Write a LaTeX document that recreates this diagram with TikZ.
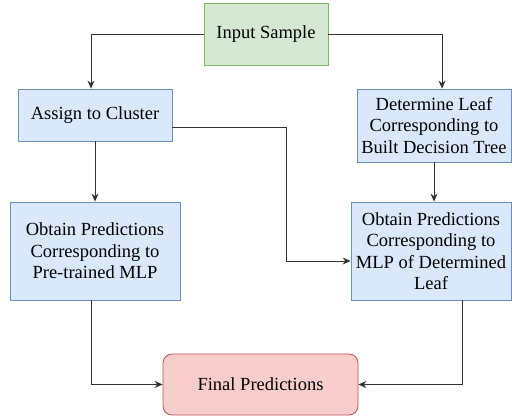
\documentclass[tikz,border=0pt]{standalone}
\usepackage{fontspec}
\setmainfont{Liberation Serif}
\usetikzlibrary{arrows.meta}
\definecolor{gfill}{HTML}{D5E8D4}
\definecolor{gline}{HTML}{82B366}
\definecolor{bfill}{HTML}{DAE8FC}
\definecolor{bline}{HTML}{6C8EBF}
\definecolor{rfill}{HTML}{F8CECC}
\definecolor{rline}{HTML}{B85450}
\tikzset{
  box/.style  = {draw, line width=0.8pt, inner sep=2pt, align=center,
                 font=\fontsize{18.5pt}{21.5pt}\selectfont},
  gbox/.style = {box, draw=gline, fill=gfill},
  bbox/.style = {box, draw=bline, fill=bfill},
  rbox/.style = {box, draw=rline, fill=rfill, rounded corners=9pt},
  arr/.style  = {line width=0.9pt, draw=black!80, -{Stealth[length=8pt,width=7pt]}},
}
\begin{document}
\begin{tikzpicture}[x=1pt,y=-1pt]
  \useasboundingbox (0,0) rectangle (512,420);
  % boxes
  \node[gbox, minimum width=124pt, minimum height=62pt] (in) at (266,34) {Input Sample};
  \node[bbox, minimum width=154pt, minimum height=52pt] (assign) at (95,115) {Assign to Cluster};
  \node[bbox, minimum width=154pt, minimum height=73pt] (leaf) at (434,125.5)
    {Determine Leaf\\Corresponding to\\Built Decision Tree};
  \node[bbox, minimum width=170pt, minimum height=98pt] (obtL) at (95,251)
    {Obtain Predictions\\Corresponding to\\Pre-trained MLP};
  \node[bbox, minimum width=160pt, minimum height=98pt] (obtR) at (431,251)
    {Obtain Predictions\\Corresponding to\\MLP of Determined\\Leaf};
  \node[rbox, minimum width=195pt, minimum height=61pt] (final) at (260.5,384.5) {Final Predictions};
  % connectors
  \draw[arr] (in.west) -| ([xshift=-4pt]assign.north);
  \draw[arr] (in.east) -| ([xshift=8pt]leaf.north);
  \draw[arr] (assign.south) -- (obtL.north);
  \draw[arr] ([yshift=-12pt]assign.east) -- ++(114,0) |- ([yshift=-10pt]obtR.west);
  \draw[arr] (leaf.south) -- (leaf.south |- obtR.north);
  \draw[arr] ([xshift=-4pt]obtL.south) |- (final.west);
  \draw[arr] ([xshift=31pt]obtR.south) |- (final.east);
\end{tikzpicture}
\end{document}
